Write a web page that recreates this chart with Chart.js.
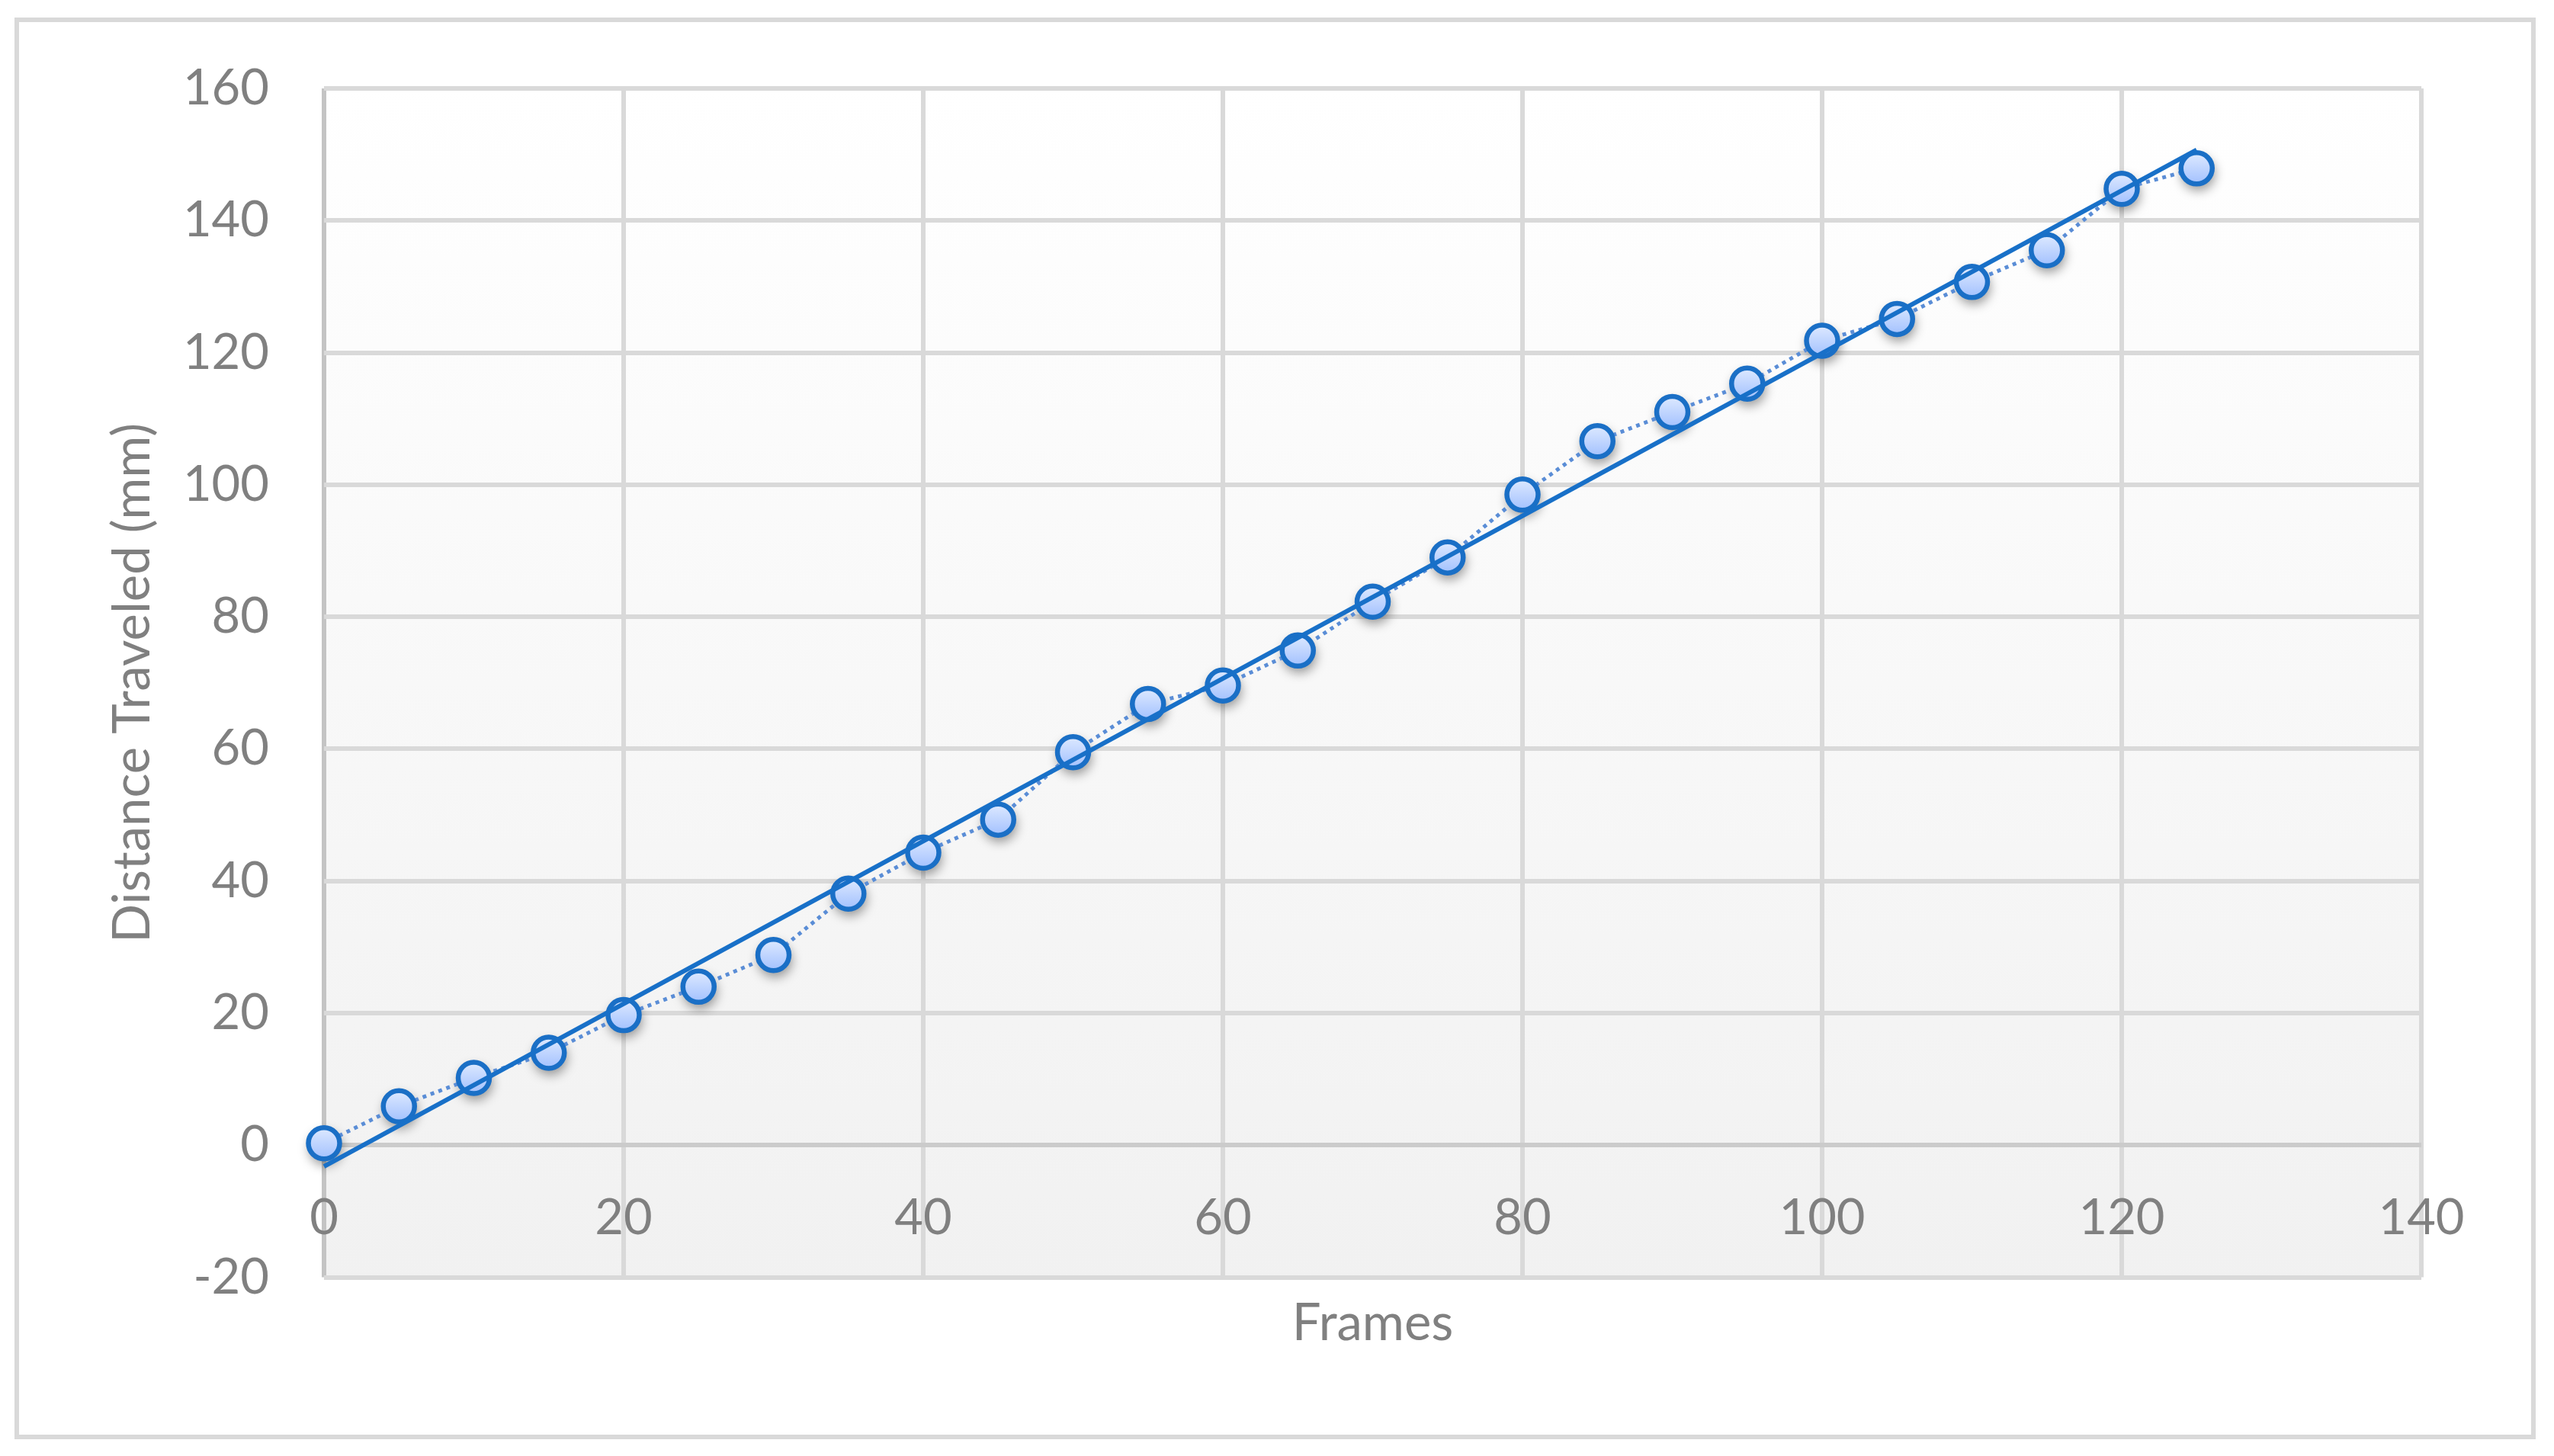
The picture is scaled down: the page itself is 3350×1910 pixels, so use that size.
<!DOCTYPE html>
<html>
<head>
<meta charset="utf-8">
<script src="https://cdn.jsdelivr.net/npm/chart.js@4.4.1/dist/chart.umd.min.js"></script>
<style>
  html, body { margin: 0; padding: 0; background: #fff; }
  #frame {
    position: absolute; left: 19px; top: 23px;
    width: 3307px; height: 1865px;
    border: 6px solid #d9d9d9; box-sizing: border-box;
  }
  #chart { position: absolute; left: 0; top: 0; }
</style>
</head>
<body>
<div id="frame"></div>
<canvas id="chart" width="3350" height="1910"></canvas>
<script>
// measured points
const frames = [0, 5, 10, 15, 20, 25, 30, 35, 40, 45, 50, 55, 60, 65, 70, 75, 80, 85, 90, 95, 100, 105, 110, 115, 120, 125]
const distance = [0.3, 5.9, 10.2, 14.0, 19.7, 24.0, 28.8, 38.1, 44.3, 49.3, 59.5, 66.8, 69.6, 74.9, 82.3, 89.0, 98.5, 106.6, 111.0, 115.3, 121.8, 125.1, 130.7, 135.5, 144.8, 147.9]

// linear trendline ends
const trendFrames = [0, 125]
const trendDistance = [-3.2, 150.7]

const xTicks = [0, 20, 40, 60, 80, 100, 120, 140]
const yTicks = [-20, 0, 20, 40, 60, 80, 100, 120, 140, 160]

const gray = "#808080"
const fontFamily = "Lato, 'Open Sans', sans-serif"
const markerRadius = 20.5

const plotBackground = {
  id: "plotBackground",
  beforeDraw(chart) {
    const { ctx, chartArea: a } = chart
    if (!a || !isFinite(a.top) || !isFinite(a.bottom)) return
    const g = ctx.createLinearGradient(0, a.top, 0, a.bottom)
    g.addColorStop(0, "#ffffff")
    g.addColorStop(1, "#f1f1f1")
    ctx.save()
    ctx.fillStyle = g
    ctx.fillRect(a.left, a.top, a.right - a.left, a.bottom - a.top)
    ctx.restore()
  }
}

// soft drop shadow behind each marker, drawn before the markers themselves
const markerShadow = {
  id: "markerShadow",
  beforeDatasetDraw(chart, args) {
    if (args.index !== 0) return
    const ctx = chart.ctx
    const meta = chart.getDatasetMeta(0)
    ctx.save()
    ctx.shadowColor = "rgba(0, 0, 0, 0.38)"
    ctx.shadowBlur = 14
    ctx.shadowOffsetX = 2
    ctx.shadowOffsetY = 7
    ctx.fillStyle = "#1a6fc6"
    meta.data.forEach(pt => {
      ctx.beginPath()
      ctx.arc(pt.x, pt.y, markerRadius + 2, 0, Math.PI * 2)
      ctx.fill()
    })
    ctx.restore()
  }
}

function markerFill(c) {
  const ys = c.chart.scales.y
  if (!ys || !c.raw) return "#c0d5fd"
  const py = ys.getPixelForValue(c.raw.y)
  if (!isFinite(py)) return "#c0d5fd"
  const g = c.chart.ctx.createLinearGradient(0, py - 20, 0, py + 20)
  g.addColorStop(0, "#dde9ff")
  g.addColorStop(1, "#a3c1fe")
  return g
}

new Chart(document.getElementById("chart"), {
  type: "scatter",
  data: {
    datasets: [{
      data: frames.map((f, i) => ({ x: f, y: distance[i] })),
      showLine: true,
      borderColor: "#5a8dd6",
      borderWidth: 5,
      borderDash: [5, 6],
      borderCapStyle: "butt",
      pointRadius: markerRadius,
      pointBorderWidth: 6.5,
      pointBorderColor: "#1a6fc6",
      pointBackgroundColor: markerFill,
      order: 1,
      clip: false
    }, {
      data: trendFrames.map((f, i) => ({ x: f, y: trendDistance[i] })),
      showLine: true,
      borderColor: "#1870c8",
      borderWidth: 6,
      pointRadius: 0,
      order: 0,
      clip: false
    }]
  },
  options: {
    responsive: false,
    animation: false,
    devicePixelRatio: 1,
    layout: {
      padding: { left: 0, right: 174, top: 116, bottom: 0 }
    },
    plugins: {
      legend: { display: false },
      tooltip: { enabled: false },
      title: {
        display: true,
        position: "bottom",
        fullSize: false,
        text: "Frames",
        color: gray,
        font: { family: fontFamily, size: 67, weight: "normal" },
        padding: { top: 21, bottom: 133 }
      }
    },
    scales: {
      x: {
        type: "linear",
        position: { y: 0 },
        min: 0,
        max: 140,
        afterBuildTicks: s => { s.ticks = xTicks.map(v => ({ value: v })) },
        afterFit: s => { s.height = 0 },
        grid: {
          color: c => (c.tick && c.tick.value === 0 ? "#c4c4c4" : "#d9d9d9"),
          lineWidth: 6,
          drawTicks: false
        },
        border: { display: false },
        ticks: {
          padding: 57,
          color: gray,
          autoSkip: false,
          maxRotation: 0,
          font: { family: fontFamily, size: 65 }
        }
      },
      y: {
        type: "linear",
        position: "left",
        min: -20,
        max: 160,
        afterBuildTicks: s => { s.ticks = yTicks.map(v => ({ value: v })) },
        afterFit: s => { s.width = 425 },
        grid: {
          color: c => (c.tick && c.tick.value === 0 ? "#cbcbcb" : "#d9d9d9"),
          lineWidth: 6,
          drawTicks: false
        },
        border: { display: false },
        ticks: {
          padding: 72,
          color: gray,
          autoSkip: false,
          font: { family: fontFamily, size: 65 }
        },
        title: {
          display: true,
          text: "Distance Traveled (mm)",
          color: gray,
          font: { family: fontFamily, size: 67 },
          padding: { top: 134, bottom: 0 }
        }
      }
    }
  },
  plugins: [plotBackground, markerShadow]
})
</script>
</body>
</html>
